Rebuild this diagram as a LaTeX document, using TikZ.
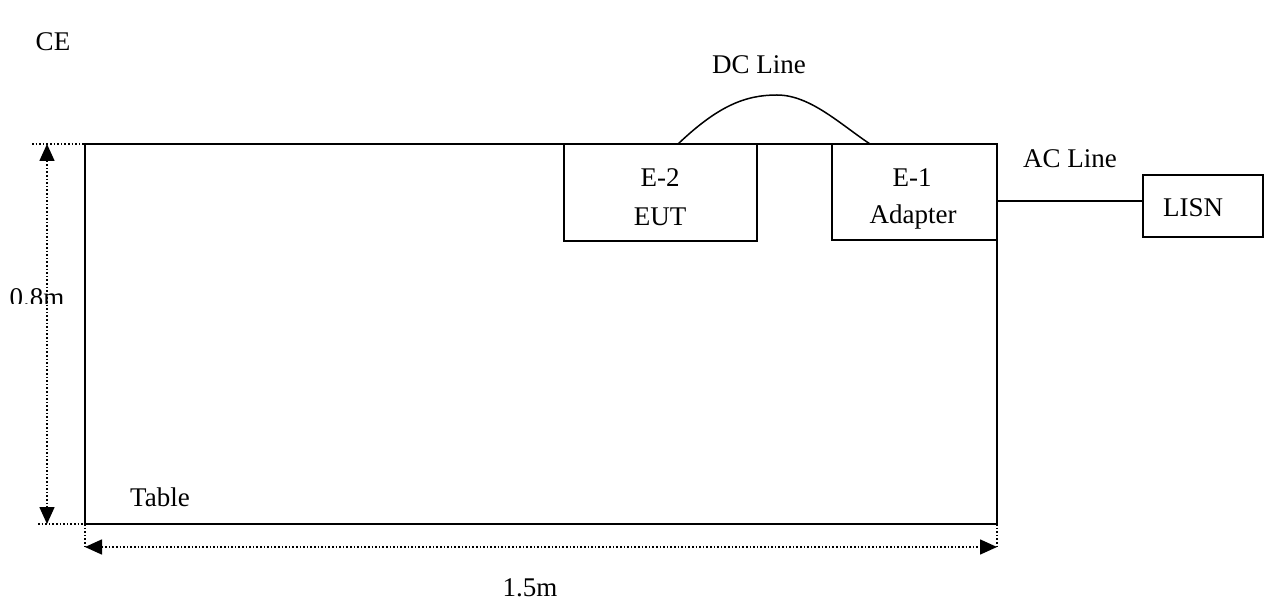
\documentclass[tikz,border=0pt]{standalone}
\usepackage{fontspec}
\setmainfont{Liberation Serif}
\usetikzlibrary{arrows.meta}
\begin{document}
\begin{tikzpicture}[x=1pt,y=-1pt,
  txt/.style={inner sep=0pt,font=\fontsize{27}{39}\selectfont},
  boxst/.style={draw,line width=1.5pt,inner sep=0pt},
  dimline/.style={dotted,line width=1.6pt,{Triangle[length=17pt,width=15pt]}-{Triangle[length=17pt,width=15pt]}},
  extline/.style={dotted,line width=1.6pt},
  wire/.style={line width=1.5pt}]
\useasboundingbox (0,0) rectangle (1271,601);
% table
\draw[line width=1.8pt] (85,144) rectangle (997,524);
% boxes
\node[boxst,minimum width=193pt,minimum height=97pt] (E2) at (660.5,192.5) {};
\node[boxst,minimum width=165pt,minimum height=96pt] (E1) at (914.5,192) {};
\node[boxst,minimum width=120pt,minimum height=62pt] (LISN) at (1203,206) {};
\node[txt] (E2a) at (660,178) {E-2};
\node[txt] (E2b) at (660,217) {EUT};
\node[txt] (E1a) at (912,178) {E-1};
\node[txt] (E1b) at (913,217) {Adapter};
\node[txt] (LISNt) at (1193,208) {LISN};
% wires
\coordinate (dcA) at (678,144);
\coordinate (dcB) at (870,144);
\draw[wire] (dcA) .. controls (718,106) and (745,95) .. (777,95) .. controls (810,95) and (840,124) .. (dcB);
\draw[wire] (E1.east |- 0,201) -- (LISN.west |- 0,201);
% labels
\node[txt] (CE) at (53,42) {CE};
\node[txt] (DC) at (759,65) {DC Line};
\node[txt] (AC) at (1070,159) {AC Line};
\node[txt] (T) at (160,497) {Table};
\begin{scope}
\clip (0,0) rectangle (90,304);
\node[txt] (H) at (37,298) {0.8m};
\end{scope}
\node[txt] (W) at (530,588) {1.5m};
% dimensions
\coordinate (vt) at (47,144);
\coordinate (vb) at (47,524);
\draw[dimline] (vt) -- (vb);
\draw[extline] (32,144) -- (103,144);
\draw[extline] (38,524) -- (108,524);
\coordinate (hl) at (85,547);
\coordinate (hr) at (997,547);
\draw[dimline] (hl) -- (hr);
\draw[extline] (85,524) -- (hl);
\draw[extline] (997,524) -- (hr);
\end{tikzpicture}
\end{document}
